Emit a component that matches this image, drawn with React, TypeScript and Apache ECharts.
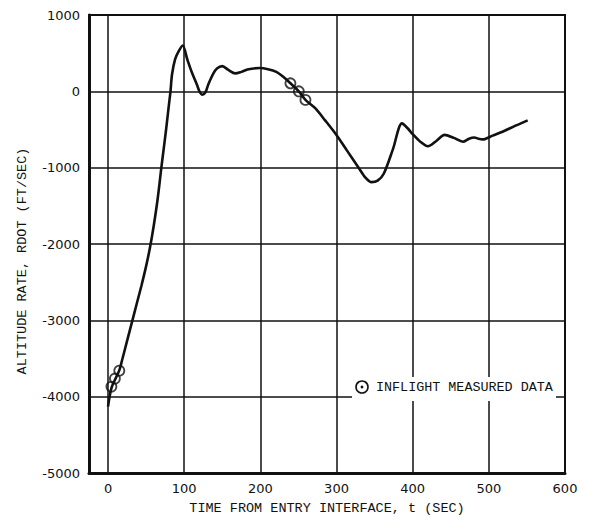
import React, { useEffect, useRef } from "react";
import * as echarts from "echarts";

// Time from entry interface (s) and altitude rate RDOT (ft/s) of the reconstructed curve
const timeValues = [
  0, 2, 5, 10, 15, 19, 25, 32, 38, 44, 50, 55, 60, 65, 70, 73, 76, 80, 82, 84, 88, 93, 98,
  104, 110, 117, 120, 124, 128, 132, 138, 143, 150, 158, 167, 175, 183, 191, 199,
  210, 221, 230, 239.5, 250.5, 259.2, 272, 285, 299, 314, 329, 338, 346, 354, 362,
  374, 386, 393, 400, 410, 420, 431, 442, 454, 466, 474, 481, 486, 492, 505, 520,
  535, 551,
];
const rdotValues = [
  -4130, -4000, -3870, -3760, -3650, -3500, -3270, -3000, -2770, -2540, -2290, -2050, -1760,
  -1420, -1000, -760, -520, -170, 0, 220, 420, 530, 600,
  420, 250, 80, 0, -45, -10, 100, 230, 300, 330, 280, 235, 255, 285, 300, 305,
  290, 255, 190, 105, 0, -112, -220, -380, -560, -780, -1000, -1130, -1190, -1170, -1080,
  -760, -420, -480, -560, -660, -720, -650, -570, -610, -660, -620, -605, -620, -630, -580, -520,
  -450, -380,
];

// Inflight measured data (open circles)
const measuredTime = [4.4, 9, 14.8, 239.5, 250.5, 259.2];
const measuredRdot = [-3868, -3763, -3659, 105, 0, -112];

const xTickValues = [0, 100, 200, 300, 400, 500, 600];

const xTitle = "TIME FROM ENTRY INTERFACE, t (SEC)";
const yTitle = "ALTITUDE RATE, RDOT (FT/SEC)";
const legendLabel = "INFLIGHT MEASURED DATA";

const INK = "#111";
const MONO = "'Liberation Mono', 'DejaVu Sans Mono', monospace";
const SANS = "'DejaVu Sans', sans-serif";

export default function App() {
  const ref = useRef<HTMLDivElement>(null);

  useEffect(() => {
    if (!ref.current) return;
    const chart = echarts.init(ref.current, undefined, { renderer: "svg" });
    const option: any = {
      animation: false,
      backgroundColor: "#fff",
      grid: {
        left: 89,
        right: 27,
        top: 15,
        bottom: 54,
        show: true,
        borderColor: INK,
        borderWidth: 2,
        backgroundColor: "transparent",
      },
      xAxis: {
        type: "value",
        min: -25,
        max: 600,
        name: xTitle,
        nameLocation: "middle",
        nameGap: 28,
        nameTextStyle: { fontFamily: MONO, fontSize: 13.5, color: INK },
        axisLine: { show: true, onZero: false, lineStyle: { color: INK, width: 3 } },
        axisTick: { show: false, customValues: xTickValues },
        axisLabel: {
          customValues: xTickValues,
          margin: 9,
          fontFamily: SANS,
          fontSize: 13,
          color: INK,
          formatter: (v: number) => String(v),
        },
        splitLine: { show: true, lineStyle: { color: INK, width: 1.5 } },
      },
      yAxis: {
        type: "value",
        min: -5000,
        max: 1000,
        interval: 1000,
        axisLine: { show: true, onZero: false, lineStyle: { color: INK, width: 3 } },
        axisTick: { show: false },
        axisLabel: {
          margin: 9,
          fontFamily: SANS,
          fontSize: 13,
          color: INK,
          formatter: (v: number) => String(v),
        },
        splitLine: { show: true, lineStyle: { color: INK, width: 1.5 } },
      },
      series: [
        {
          type: "line",
          data: timeValues.map((t, i) => [t, rdotValues[i]]),
          smooth: 0.3,
          showSymbol: false,
          symbol: "none",
          lineStyle: { color: INK, width: 2.6 },
          z: 3,
        },
        {
          type: "scatter",
          data: measuredTime.map((t, i) => [t, measuredRdot[i]]),
          symbol: "circle",
          symbolSize: 10,
          itemStyle: { color: "rgba(0,0,0,0)", borderColor: INK, borderWidth: 1.8 },
          z: 4,
        },
      ],
      graphic: [
        {
          type: "text",
          x: 22,
          y: 261,
          rotation: Math.PI / 2,
          style: {
            text: yTitle,
            fontFamily: MONO,
            fontSize: 13.5,
            fill: INK,
            align: "center",
            verticalAlign: "middle",
          },
        },
        {
          type: "rect",
          shape: { x: 352, y: 377, width: 204, height: 24 },
          style: { fill: "#fff" },
          z: 10,
        },
        {
          type: "circle",
          shape: { cx: 362, cy: 387, r: 6 },
          style: { fill: "#fff", stroke: INK, lineWidth: 1.6 },
          z: 11,
        },
        {
          type: "circle",
          shape: { cx: 362, cy: 387, r: 1.4 },
          style: { fill: INK },
          z: 11,
        },
        {
          type: "text",
          x: 376,
          y: 387,
          style: {
            text: legendLabel,
            fontFamily: MONO,
            fontSize: 13.4,
            fill: INK,
            align: "left",
            verticalAlign: "middle",
          },
          z: 11,
        },
      ],
    };
    chart.setOption(option);
    return () => chart.dispose();
  }, []);

  return (
    <div
      ref={ref}
      style={{ position: "fixed", left: 0, top: 0, width: 592, height: 527 }}
    />
  );
}
